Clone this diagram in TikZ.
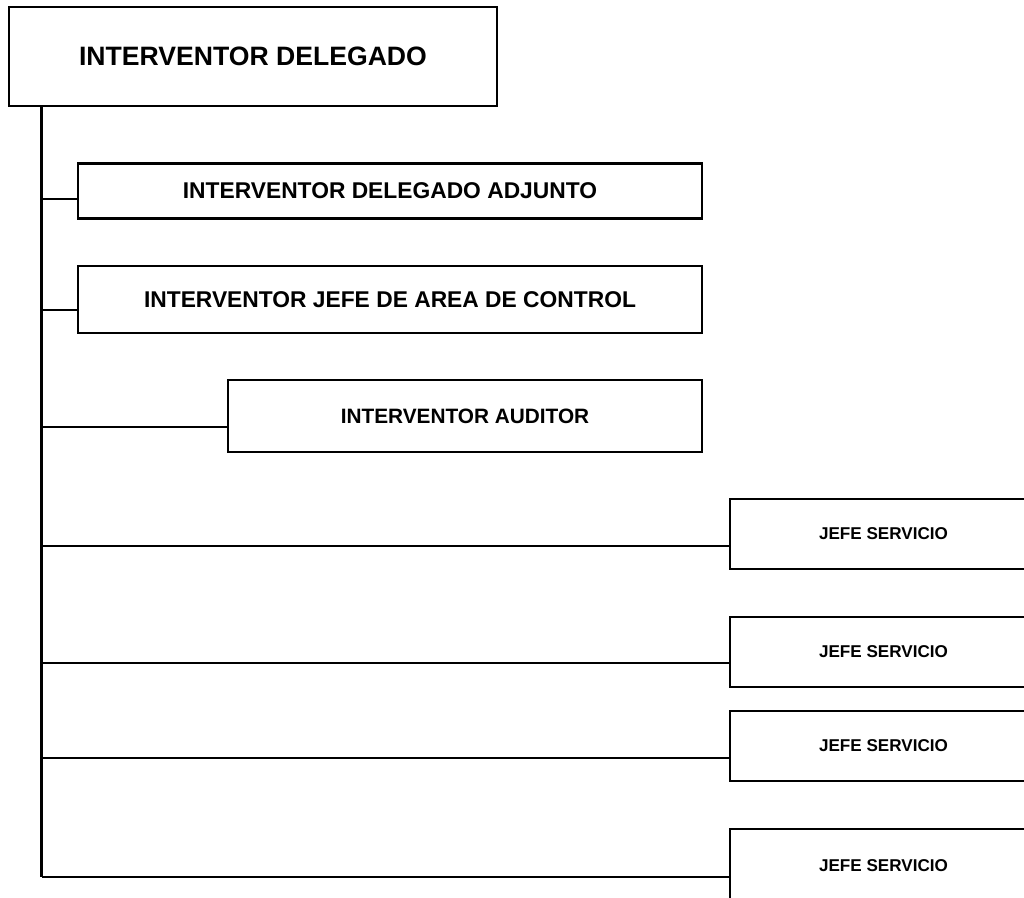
\documentclass[tikz,border=0pt]{standalone}
\usepackage{fontspec}
\setmainfont{Liberation Sans}
\begin{document}
\begin{tikzpicture}
[
x=1pt, y=-1pt,
Frame/.style={rectangle, draw=black, fill=white, line width=2.2pt, inner sep=0pt},
Chief/.style={Frame, minimum width=488pt, minimum height=99pt, font=\fontsize{26.6}{30}\selectfont\bfseries},
Deputy/.style={Frame, minimum width=624pt, font=\fontsize{22.8}{26}\selectfont\bfseries},
Auditor/.style={Frame, minimum width=474pt, minimum height=72pt, font=\fontsize{20.8}{24}\selectfont\bfseries},
Service/.style={Frame, minimum width=307pt, minimum height=70pt, font=\fontsize{17.1}{20}\selectfont\bfseries},
Trunk/.style={-, draw=black, line width=3pt},
Branch/.style={-, draw=black, line width=2.2pt},
]

\clip (0,0) rectangle (1024,897);

% boxes
\node[Chief] (chief) at (253,56.7) {INTERVENTOR DELEGADO};

\node[Deputy, minimum height=55pt] (adjunto) at (390,191.0) {INTERVENTOR DELEGADO ADJUNTO};
\node[Deputy, minimum height=67pt] (area)    at (390,299.3) {INTERVENTOR JEFE DE AREA DE CONTROL};
\node[Auditor] (auditor) at (465,416.0) {INTERVENTOR AUDITOR};

\node[Service] (serviceA) at (883.5,534.0) {JEFE SERVICIO};
\node[Service] (serviceB) at (883.5,651.7) {JEFE SERVICIO};
\node[Service] (serviceC) at (883.5,746.0) {JEFE SERVICIO};
\node[Service, minimum height=74pt] (serviceD) at (883.5,866.0) {JEFE SERVICIO};

% trunk points
\coordinate (t0) at (41.7,106.0);
\coordinate (t1) at (41.7,199.3);
\coordinate (t2) at (41.7,310.0);
\coordinate (t3) at (41.7,426.7);
\coordinate (t4) at (41.7,546.0);
\coordinate (t5) at (41.7,663.0);
\coordinate (t6) at (41.7,757.7);
\coordinate (t7) at (41.7,876.7);

\draw[Trunk] (t0)--(t7);

\draw[Branch] (t1)--(t1 -| adjunto.west);
\draw[Branch] (t2)--(t2 -| area.west);
\draw[Branch] (t3)--(t3 -| auditor.west);
\draw[Branch] (t4)--(t4 -| serviceA.west);
\draw[Branch] (t5)--(t5 -| serviceB.west);
\draw[Branch] (t6)--(t6 -| serviceC.west);
\draw[Branch] (t7)--(t7 -| serviceD.west);

\end{tikzpicture}
\end{document}
